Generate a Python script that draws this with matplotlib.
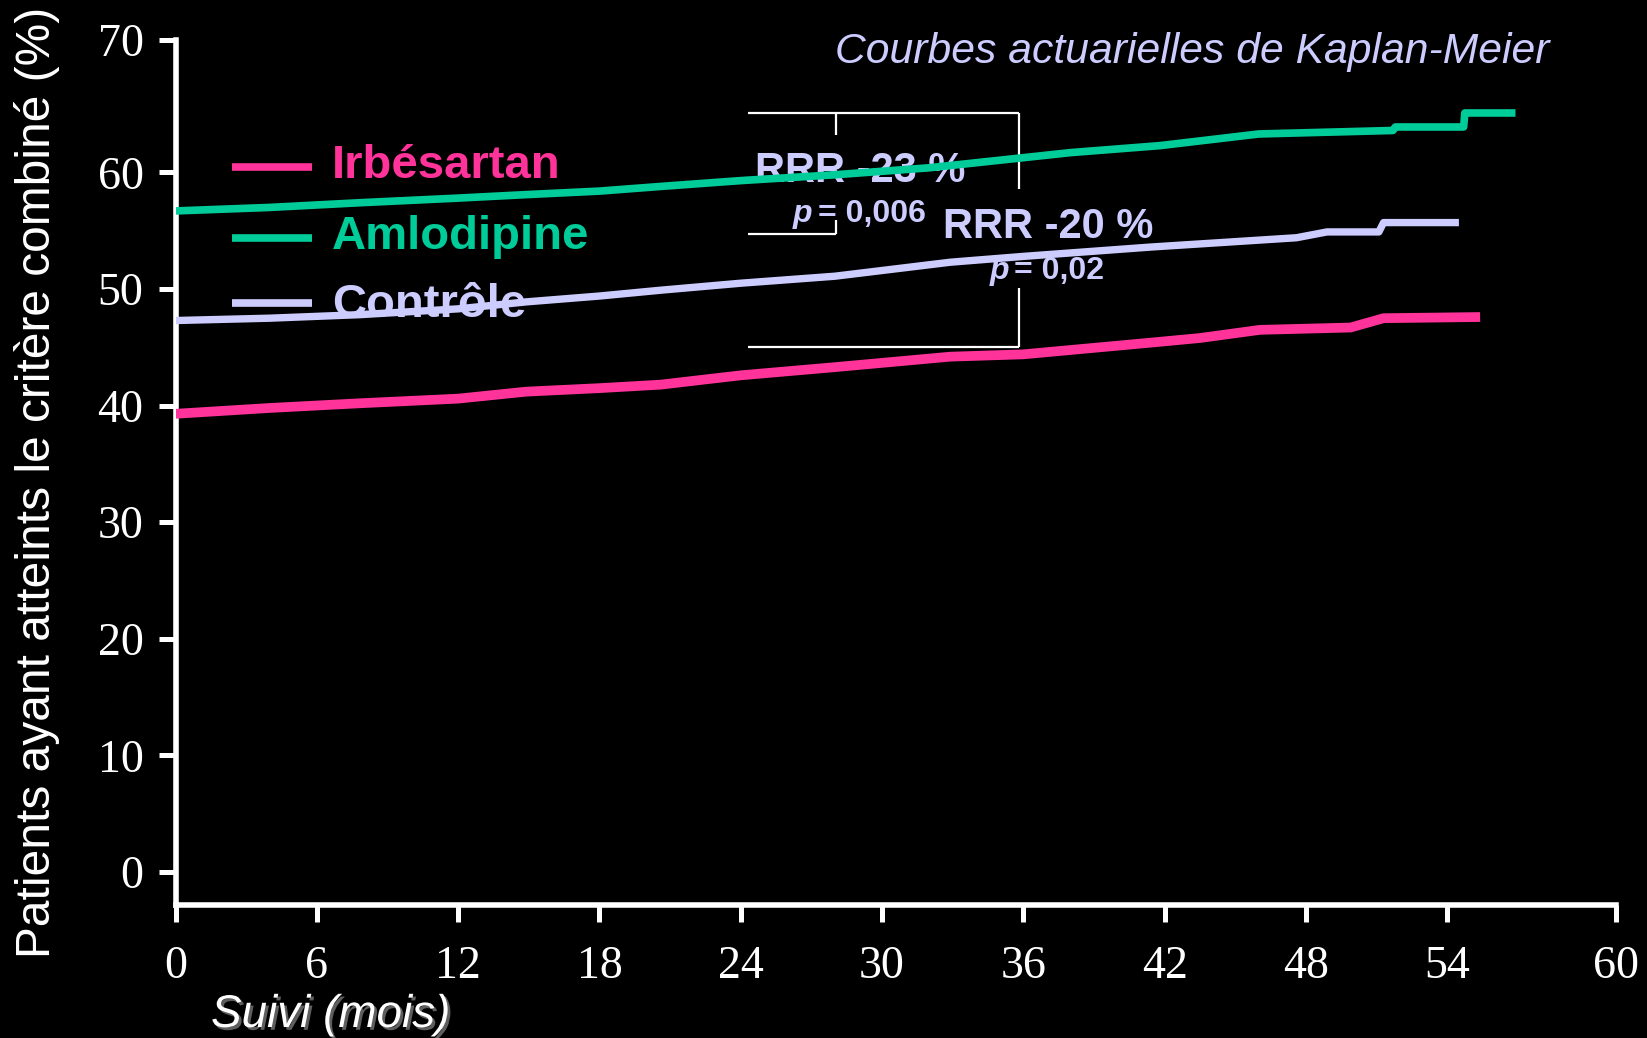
import matplotlib
matplotlib.use("Agg")
import matplotlib.pyplot as plt
import matplotlib.patheffects as pe

# --- Data ---
months_amlo = [0, 4, 7.8, 12, 14.9, 18, 20.6, 24, 28, 32, 35.7, 38, 41.8, 46, 51.7, 51.8, 54.7, 54.75, 56.9]
amlodipine = [56.7, 57.0, 57.4, 57.8, 58.1, 58.4, 58.8, 59.3, 59.8, 60.4, 61.2, 61.7, 62.3, 63.3, 63.6, 63.9, 63.9, 65.1, 65.1]

months_ctrl = [0, 4, 7.8, 12, 14.9, 18, 20.6, 24, 28, 32.9, 36, 41.4, 47.6, 48.9, 51.1, 51.3, 54.5]
controle = [47.3, 47.5, 47.8, 48.3, 48.9, 49.4, 49.9, 50.5, 51.1, 52.3, 52.8, 53.6, 54.4, 54.9, 54.9, 55.7, 55.7]

months_irbe = [0, 4, 7.8, 12, 14.9, 18, 20.6, 24, 28, 32.9, 36, 41.4, 43.5, 46.05, 49.9, 51.3, 55.4]
irbesartan = [39.3, 39.8, 40.2, 40.6, 41.2, 41.5, 41.8, 42.6, 43.3, 44.2, 44.4, 45.4, 45.8, 46.5, 46.7, 47.5, 47.6]

series_names = ['Irbésartan', 'Amlodipine', 'Contrôle']
series_colors = ['#FF3399', '#00CC99', '#CCCCFF']

x_ticks = [0, 6, 12, 18, 24, 30, 36, 42, 48, 54]
y_ticks = [0, 10, 20, 30, 40, 50, 60]
x_end, y_end = 61.17, 71.36   # the last tick sits at the end of each axis
y_start = -2.83

# --- Figure ---
W, H = 1647, 1038
fig = plt.figure(figsize=(W / 100, H / 100), dpi=100, facecolor='black')
ax = fig.add_axes([175.5 / W, 1 - 905 / H, 1440.5 / W, 865 / H])
ax.set_facecolor('black')

sans = 'Liberation Sans'
serif = 'Liberation Serif'

def fpos(px, py):
    return px / W, 1 - py / H

# curves
ax.plot(months_irbe, irbesartan, color=series_colors[0], lw=7, solid_capstyle='butt', zorder=4)
ax.plot(months_amlo, amlodipine, color=series_colors[1], lw=5.5, solid_capstyle='butt', zorder=4)
ax.plot(months_ctrl, controle, color=series_colors[2], lw=5.3, solid_capstyle='butt', zorder=4)

ax.set_xlim(0, x_end)
ax.set_ylim(y_start, y_end)

ax.set_xticks(x_ticks + [x_end])
ax.set_xticklabels([str(v) for v in x_ticks] + ['60'])
ax.set_yticks(y_ticks + [y_end])
ax.set_yticklabels([str(v) for v in y_ticks] + ['70'])

for s in ['top', 'right']:
    ax.spines[s].set_visible(False)
for s in ['left', 'bottom']:
    ax.spines[s].set_color('white')
    ax.spines[s].set_linewidth(4)

ax.tick_params(axis='both', colors='white', length=12, width=3.6, labelsize=33)
ax.tick_params(axis='y', pad=11)
ax.tick_params(axis='x', pad=17)
for lab in ax.get_xticklabels() + ax.get_yticklabels():
    lab.set_family(serif)

# axis labels
fig.text(*fpos(37, 482), 'Patients ayant atteints le critère combiné (%)', rotation=90,
         ha='center', va='center', color='white', fontsize=34.5, family=sans)
xl = fig.text(*fpos(211, 1027), 'Suivi (mois)', ha='left', va='baseline', color='white',
              fontsize=33, family=sans, style='italic')
xl.set_path_effects([pe.withSimplePatchShadow(offset=(2, -2), shadow_rgbFace='#777777', alpha=0.8)])

# title
ax.text(*fpos(835, 63), 'Courbes actuarielles de Kaplan-Meier', transform=fig.transFigure,
        ha='left', va='baseline', color='#CCCCFF', fontsize=30.7, family=sans, style='italic')

# legend (drawn by hand, under the curves)
legend_y = [167, 238, 303]
text_base = [178, 249, 317]
for name, col, ly, ty in zip(series_names, series_colors, legend_y, text_base):
    x0, y0 = fpos(232, ly)
    x1, _ = fpos(312, ly)
    ax.plot([x0, x1], [y0, y0], transform=fig.transFigure, color=col, lw=5.5,
            solid_capstyle='butt', zorder=2, clip_on=False)
    ax.text(*fpos(332, ty), name, transform=fig.transFigure, ha='left', va='baseline',
            color=col, fontsize=34, family=sans, weight='bold', zorder=2)

# brackets for the RRR annotations
bx_left, bx_mid, bx_right = 24.3, 28.04, 35.8
by_top, by_mid, by_bot = 65.1, 54.7, 45.0
bk = dict(color='white', lw=1.6, zorder=2, solid_capstyle='butt')
ax.plot([bx_left, bx_right], [by_top, by_top], **bk)
ax.plot([bx_left, bx_right], [by_bot, by_bot], **bk)
ax.plot([bx_left, bx_mid], [by_mid, by_mid], **bk)
ax.plot([bx_mid, bx_mid], [by_top, 63.2], **bk)
ax.plot([bx_mid, bx_mid], [55.9, by_mid], **bk)
ax.plot([bx_right, bx_right], [by_top, 58.6], **bk)
ax.plot([bx_right, bx_right], [50.1, by_bot], **bk)

lav = '#CCCCFF'
ax.text(*fpos(755, 182), 'RRR -23 %', transform=fig.transFigure, ha='left', va='baseline',
        color=lav, fontsize=30, family=sans, weight='bold', zorder=2)
ax.text(*fpos(793, 222), 'p', transform=fig.transFigure, ha='left', va='baseline',
        color=lav, fontsize=23, family=sans, weight='bold', style='italic', zorder=2)
ax.text(*fpos(818, 222), '= 0,006', transform=fig.transFigure, ha='left', va='baseline',
        color=lav, fontsize=23, family=sans, weight='bold', zorder=2)
ax.text(*fpos(943, 238), 'RRR -20 %', transform=fig.transFigure, ha='left', va='baseline',
        color=lav, fontsize=30, family=sans, weight='bold', zorder=2)
ax.text(*fpos(990, 279), 'p', transform=fig.transFigure, ha='left', va='baseline',
        color=lav, fontsize=23, family=sans, weight='bold', style='italic', zorder=2)
ax.text(*fpos(1014, 279), '= 0,02', transform=fig.transFigure, ha='left', va='baseline',
        color=lav, fontsize=23, family=sans, weight='bold', zorder=2)

fig.savefig('out.png', dpi=100, facecolor='black')
